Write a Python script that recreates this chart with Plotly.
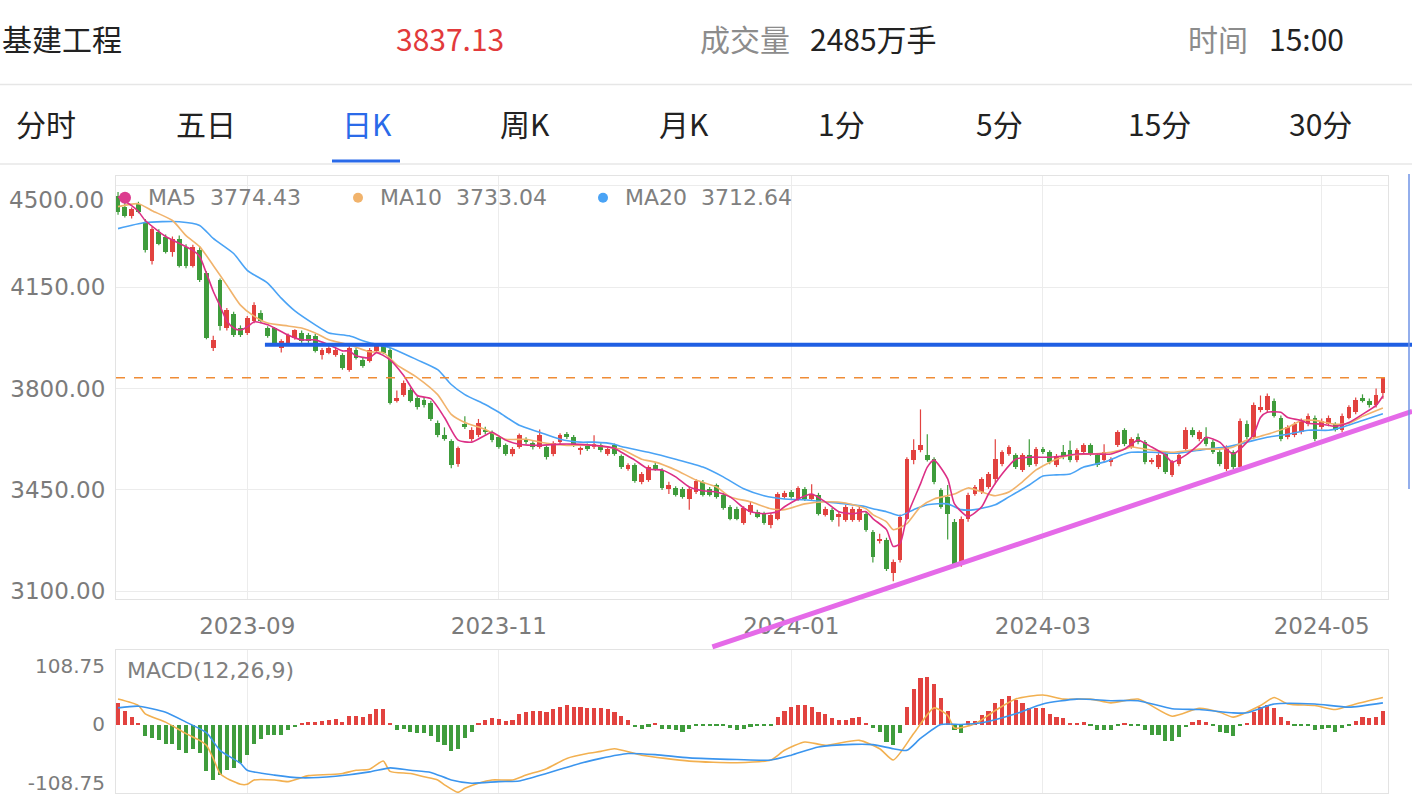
import plotly.graph_objects as go

# ---------------- data ----------------
opens = [4465, 4428, 4397, 4438, 4376, 4239, 4342, 4325, 4273, 4318,
         4290, 4225, 4277, 4198, 3941, 4174, 4009, 4057, 4009, 3992,
         4033, 4061, 4009, 4009, 3941, 3958, 3975, 3992, 3985, 3982,
         3917, 3924, 3917, 3917, 3865, 3934, 3899, 3896, 3930, 3947,
         3934, 3759, 3779, 3797, 3769, 3762, 3752, 3683, 3639, 3618,
         3539, 3677, 3625, 3639, 3659, 3649, 3632, 3604, 3574, 3598,
         3625, 3611, 3598, 3598, 3574, 3615, 3642, 3632, 3587, 3604,
         3598, 3604, 3574, 3604, 3567, 3522, 3536, 3478, 3484, 3536,
         3519, 3454, 3457, 3454, 3419, 3443, 3478, 3454, 3467, 3433,
         3392, 3385, 3337, 3375, 3375, 3368, 3330, 3351, 3426, 3443,
         3419, 3454, 3419, 3433, 3364, 3382, 3358, 3347, 3347, 3347,
         3368, 3306, 3275, 3279, 3162, 3210, 3351, 3553, 3587, 3570,
         3556, 3450, 3426, 3340, 3196, 3351, 3436, 3443, 3460, 3488,
         3539, 3574, 3570, 3519, 3570, 3539, 3591, 3580, 3536, 3580,
         3587, 3553, 3580, 3604, 3570, 3553, 3546, 3604, 3656, 3598,
         3632, 3615, 3546, 3529, 3574, 3502, 3539, 3591, 3659, 3625,
         3632, 3615, 3580, 3522, 3580, 3529, 3677, 3632, 3725, 3725,
         3759, 3700, 3632, 3639, 3649, 3677, 3700, 3666, 3677, 3677,
         3656, 3700, 3718, 3769, 3759, 3742, 3786]
highs = [4478, 4440, 4425, 4445, 4385, 4358, 4350, 4332, 4325, 4328,
         4298, 4296, 4290, 4205, 3982, 4180, 4078, 4065, 4018, 4050,
         4098, 4070, 4015, 4012, 3970, 3990, 4005, 4000, 3992, 3988,
         3940, 3948, 3940, 3922, 3948, 3940, 3905, 3940, 3953, 3953,
         3940, 3793, 3828, 3803, 3775, 3770, 3758, 3690, 3666, 3625,
         3600, 3704, 3666, 3695, 3668, 3655, 3638, 3610, 3598, 3645,
         3632, 3618, 3659, 3604, 3618, 3646, 3650, 3640, 3600, 3610,
         3639, 3611, 3598, 3610, 3572, 3542, 3542, 3512, 3535, 3545,
         3525, 3478, 3463, 3460, 3460, 3488, 3484, 3460, 3472, 3440,
         3398, 3392, 3394, 3409, 3382, 3375, 3370, 3442, 3447, 3450,
         3463, 3460, 3470, 3440, 3392, 3388, 3375, 3398, 3392, 3392,
         3375, 3312, 3299, 3285, 3210, 3365, 3563, 3625, 3728, 3642,
         3563, 3456, 3467, 3350, 3358, 3440, 3467, 3494, 3512, 3625,
         3587, 3604, 3577, 3577, 3625, 3598, 3598, 3587, 3574, 3605,
         3620, 3594, 3611, 3611, 3577, 3608, 3563, 3656, 3663, 3632,
         3645, 3622, 3560, 3577, 3580, 3553, 3577, 3666, 3666, 3656,
         3666, 3622, 3587, 3604, 3587, 3697, 3690, 3752, 3776, 3783,
         3766, 3707, 3673, 3684, 3697, 3714, 3707, 3697, 3707, 3684,
         3714, 3742, 3769, 3780, 3766, 3800, 3840]
lows = [4400, 4390, 4387, 4405, 4270, 4228, 4295, 4266, 4255, 4218,
        4215, 4218, 4168, 3970, 3930, 4000, 4000, 3978, 3978, 3985,
        4025, 4025, 3975, 3950, 3924, 3950, 3968, 3958, 3958, 3924,
        3900, 3918, 3910, 3865, 3858, 3900, 3872, 3890, 3924, 3918,
        3745, 3752, 3772, 3752, 3728, 3735, 3688, 3632, 3620, 3525,
        3530, 3660, 3618, 3632, 3642, 3615, 3592, 3568, 3566, 3592,
        3608, 3590, 3592, 3555, 3566, 3608, 3626, 3598, 3572, 3584,
        3591, 3580, 3568, 3568, 3522, 3516, 3475, 3470, 3478, 3516,
        3450, 3436, 3427, 3420, 3382, 3436, 3427, 3427, 3420, 3382,
        3345, 3345, 3330, 3364, 3352, 3330, 3318, 3345, 3420, 3420,
        3412, 3412, 3412, 3362, 3358, 3340, 3324, 3340, 3340, 3340,
        3306, 3200, 3265, 3170, 3135, 3200, 3345, 3539, 3580, 3548,
        3470, 3385, 3279, 3185, 3185, 3340, 3430, 3436, 3454, 3470,
        3532, 3568, 3522, 3512, 3529, 3532, 3574, 3539, 3529, 3556,
        3546, 3546, 3574, 3568, 3529, 3546, 3532, 3598, 3601, 3592,
        3608, 3539, 3539, 3522, 3505, 3495, 3532, 3584, 3632, 3618,
        3601, 3574, 3532, 3515, 3522, 3522, 3625, 3625, 3718, 3718,
        3700, 3618, 3625, 3632, 3642, 3670, 3618, 3659, 3670, 3652,
        3649, 3694, 3711, 3752, 3735, 3735, 3765]
closes = [4411, 4397, 4421, 4411, 4277, 4352, 4301, 4273, 4318, 4225,
          4222, 4290, 4174, 3975, 3968, 4016, 4071, 3985, 3985, 4044,
          4088, 4033, 3982, 3958, 3965, 3985, 4002, 3965, 3965, 3930,
          3934, 3941, 3934, 3872, 3941, 3906, 3879, 3934, 3947, 3924,
          3752, 3769, 3821, 3759, 3735, 3742, 3694, 3639, 3625, 3536,
          3594, 3666, 3659, 3680, 3649, 3622, 3598, 3574, 3591, 3639,
          3615, 3598, 3639, 3563, 3611, 3639, 3632, 3604, 3594, 3591,
          3608, 3587, 3591, 3574, 3529, 3536, 3481, 3505, 3529, 3522,
          3457, 3467, 3433, 3426, 3454, 3481, 3433, 3433, 3426, 3388,
          3351, 3351, 3388, 3399, 3358, 3337, 3364, 3436, 3440, 3426,
          3457, 3419, 3436, 3368, 3385, 3347, 3368, 3392, 3385, 3385,
          3313, 3220, 3282, 3176, 3203, 3358, 3556, 3587, 3604, 3553,
          3478, 3392, 3368, 3196, 3351, 3433, 3460, 3488, 3505, 3556,
          3580, 3598, 3529, 3570, 3536, 3591, 3580, 3546, 3567, 3563,
          3553, 3587, 3604, 3574, 3536, 3580, 3556, 3649, 3608, 3625,
          3615, 3546, 3553, 3570, 3512, 3546, 3570, 3659, 3639, 3649,
          3608, 3580, 3539, 3598, 3529, 3690, 3632, 3745, 3735, 3776,
          3707, 3625, 3666, 3677, 3690, 3707, 3625, 3690, 3700, 3659,
          3707, 3735, 3762, 3759, 3742, 3779, 3837.13]

# moving averages (candle index, value)
ma5_idx = [0, 2, 3, 4, 6, 7, 9, 11, 12, 13, 14, 15, 16, 17, 18, 19, 20, 22, 23, 25,
           27, 29, 31, 33, 34, 35, 37, 38, 40, 42, 44, 46, 48, 50, 52, 54, 55, 57, 59, 62,
           65, 67, 70, 73, 74, 76, 78, 80, 82, 84, 86, 88, 90, 92, 93, 95, 97, 98, 100, 102,
           104, 106, 108, 110, 111, 113, 114, 115, 116, 118, 119, 120, 122, 123, 125, 127, 128, 130, 132, 134,
           137, 139, 141, 144, 146, 148, 149, 150, 152, 154, 155, 157, 159, 160, 162, 163, 164, 165, 167, 168,
           169, 171, 172, 174, 175, 177, 179, 181, 183, 185, 186]
ma5_val = [4462, 4431, 4411, 4380, 4342, 4325, 4301, 4277, 4256, 4198, 4136, 4085, 4033, 4009, 4002, 4013, 4030, 4020, 4009, 3985,
           3968, 3968, 3951, 3930, 3930, 3913, 3906, 3924, 3899, 3845, 3776, 3765, 3700, 3622, 3615, 3639, 3649, 3622, 3608, 3604,
           3608, 3608, 3604, 3594, 3580, 3553, 3522, 3519, 3495, 3460, 3447, 3443, 3426, 3388, 3375, 3368, 3375, 3392, 3419, 3436,
           3409, 3375, 3368, 3375, 3351, 3313, 3255, 3265, 3358, 3471, 3529, 3553, 3488, 3402, 3358, 3392, 3436, 3505, 3556, 3563,
           3563, 3567, 3574, 3574, 3574, 3591, 3608, 3622, 3598, 3570, 3546, 3570, 3608, 3632, 3615, 3591, 3574, 3591, 3642, 3700,
           3718, 3718, 3700, 3690, 3680, 3677, 3670, 3683, 3711, 3742, 3774.43]

ma10_idx = [0, 3, 5, 8, 10, 12, 14, 16, 18, 20, 22, 25, 27, 29, 31, 34, 37, 39, 41, 44,
            47, 49, 51, 54, 57, 60, 63, 66, 70, 73, 74, 77, 79, 82, 85, 88, 90, 93, 96, 98,
            101, 104, 107, 110, 111, 113, 114, 116, 118, 120, 123, 125, 127, 129, 131, 133, 135, 138, 140, 143,
            146, 148, 149, 151, 155, 159, 162, 164, 166, 169, 172, 174, 176, 179, 181, 183, 186]
ma10_val = [4428, 4438, 4414, 4380, 4328, 4290, 4225, 4157, 4088, 4050, 4026, 4016, 4009, 3992, 3968, 3951, 3927, 3924, 3882, 3838,
            3779, 3711, 3683, 3659, 3625, 3625, 3611, 3604, 3604, 3594, 3591, 3556, 3546, 3519, 3484, 3460, 3426, 3409, 3385, 3382,
            3402, 3409, 3405, 3385, 3365, 3340, 3313, 3334, 3392, 3419, 3436, 3457, 3443, 3430, 3443, 3478, 3519, 3556, 3570, 3574,
            3580, 3591, 3598, 3591, 3580, 3591, 3591, 3598, 3622, 3642, 3666, 3690, 3690, 3677, 3680, 3704, 3733.04]

ma20_idx = [0, 4, 9, 12, 14, 17, 19, 22, 24, 26, 29, 31, 34, 36, 37, 40, 44, 47, 49, 51,
            54, 56, 59, 62, 65, 68, 70, 73, 74, 78, 82, 86, 89, 92, 95, 98, 101, 104, 107, 110,
            111, 113, 115, 117, 119, 122, 124, 126, 129, 131, 134, 136, 138, 140, 142, 145, 148, 149, 152, 156,
            160, 163, 166, 169, 172, 175, 178, 180, 183, 186]
ma20_val = [4352, 4373, 4376, 4363, 4318, 4266, 4208, 4164, 4112, 4068, 4020, 3992, 3982, 3965, 3958, 3941, 3899, 3865, 3814, 3779,
            3745, 3718, 3673, 3649, 3625, 3615, 3615, 3608, 3600, 3580, 3556, 3529, 3495, 3454, 3430, 3419, 3416, 3409, 3402, 3392,
            3385, 3375, 3361, 3382, 3399, 3402, 3382, 3382, 3399, 3426, 3467, 3498, 3502, 3505, 3529, 3546, 3574, 3580, 3580, 3577,
            3591, 3598, 3615, 3632, 3642, 3656, 3656, 3666, 3690, 3712.64]

# MACD histogram, one bar per candle
macd_hist = [40, 25.8, 14.7, 3, -21.5, -25, -28, -37, -37, -47,
             -53, -45, -53, -87, -103, -94, -85, -80, -72, -57,
             -36, -26, -20, -20, -20, -11, -5, 2.5, 5.5, 5.5,
             6.8, 9, 10, 4, 15, 15, 13.5, 19.6, 29, 29,
             2.5, -11, -9, -14, -16, -16, -21.5, -32.5, -37.5, -50,
             -45, -25, -13, 2.5, 9, 12, 10, 7.4, 9, 19.6,
             24, 25.8, 25.8, 24, 29, 32, 36, 33, 32, 30.7,
             30.7, 30, 29, 24, 15, 9, -5, -8, -3.7, 1,
             -8, -9, -11, -13, -8, -3, -2, -2, -3, -2,
             -6.8, -11, -8, -3.7, -2, -3, -2, 14.7, 24.6, 32,
             37, 36, 33, 24, 19.6, 12, 9, 9, 12, 13.5,
             3, -6.8, -14, -32.5, -38.7, -15, 33, 65.8, 86.6, 89,
             75, 49, 25.8, -11, -15, 7.4, 7.4, 17.8, 25.8, 39,
             47, 52, 45, 40, 30.7, 30.7, 30, 19.6, 14.7, 12,
             3, 3, 4, -2, -10, -10, -10, -2, 1, -2,
             -2, -11, -19, -20, -31, -31, -23, -5, 5.5, 9,
             4, -3, -13, -15, -21.5, -2, 3, 22.7, 32, 37,
             30.7, 14.7, 7.4, -2, -1, -1, -10, -8, -6.8, -13,
             -6.8, -2, 7.4, 13.5, 12, 14.7, 24.6]

dif_idx = [0, 3, 4, 7, 10, 12, 13, 14, 15, 16, 18, 19, 20, 23, 25, 28, 31, 33, 35, 37,
           39, 40, 43, 45, 47, 48, 50, 51, 53, 55, 58, 60, 63, 66, 69, 71, 73, 77, 84, 91,
           96, 98, 101, 104, 109, 112, 114, 117, 120, 122, 123, 126, 129, 132, 136, 139, 143, 146, 150, 155,
           159, 162, 164, 168, 170, 172, 176, 179, 182, 186]
dif_val = [47, 35, 19.7, 4.3, -17, -29.5, -38.7, -63, -91, -100, -111, -111, -103, -103, -106, -95, -93, -91, -85, -83,
           -68, -87, -91, -97, -103, -112, -126, -118.5, -109, -103, -103, -94, -82, -63, -54, -50, -45, -57, -68, -71,
           -66, -48, -32.5, -38.7, -29.5, -45, -66, -17, 30.7, 16.6, -6.8, 1.2, 25.8, 47, 54.7, 47, 47, 40, 47, 15.3,
           30, 22.7, 13.5, 35, 50, 38, 35, 27.6, 38, 50]

dea_idx = [0, 3, 7, 10, 13, 15, 18, 19, 23, 27, 32, 37, 40, 43, 46, 49, 52, 56, 59, 63,
           67, 71, 75, 79, 84, 91, 96, 99, 103, 108, 111, 114, 116, 118, 121, 124, 127, 132, 136, 141,
           146, 150, 155, 159, 164, 166, 170, 176, 181, 186]
dea_val = [30.7, 33.8, 22.7, 4.3, -15.4, -48, -72, -85, -94, -99, -96, -88, -80.5, -85, -89, -103, -109, -106, -105, -91,
           -75.6, -63, -54, -56, -62, -65, -66, -57, -41.8, -37, -37.5, -45, -48, -26, 0, 0, 3, 19.7, 38, 47,
           44, 44, 29, 27.6, 21.5, 21.5, 38, 38, 32, 40]

month_idx = [19, 56, 99, 136, 177]
month_labels = ["2023-09", "2023-11", "2024-01", "2024-03", "2024-05"]
price_ticks = [4500, 4150, 3800, 3450, 3100]
macd_ticks = [108.75, 0, -108.75]

support_level = 3951
support_start = 21.6
last_close = 3837.13
trend_p0 = (87.4, 2908)
trend_p1 = (190.3, 3721)

# ---------------- styling ----------------
W, H = 1412, 800
RED, GREEN = "#e2423f", "#3f9c3c"
GRID, BORDER = "#ececec", "#e3e3e3"
CJK = "Noto Sans CJK SC"
LAT = "DejaVu Sans"

XR = [-0.3, 186.75]
XD = [116 / W, 1388 / W]
YR = [3072.8, 4534.0]
YD = [1 - 603 / H, 1 - 177 / H]
MR = [-127.2, 138.2]
MD = [1 - 798 / H, 1 - 654 / H]


def px(x):
    return x / W


def py(y):
    return 1 - y / H


def xpaper(i):
    return XD[0] + (i - XR[0]) / (XR[1] - XR[0]) * (XD[1] - XD[0])


def ypaper(p):
    return YD[0] + (p - YR[0]) / (YR[1] - YR[0]) * (YD[1] - YD[0])


n = len(closes)
idx = list(range(n))
is_up = [c >= o for o, c in zip(opens, closes)]
body_base = [min(o, c) for o, c in zip(opens, closes)]
body_h = [max(abs(c - o), 2.5) for o, c in zip(opens, closes)]
body_col = [RED if u else GREEN for u in is_up]

fig = go.Figure()

for want, col in ((True, RED), (False, GREEN)):
    wx, wy = [], []
    for i in idx:
        if is_up[i] == want:
            wx += [i, i, None]
            wy += [lows[i], highs[i], None]
    fig.add_trace(go.Scatter(x=wx, y=wy, mode="lines", line=dict(color=col, width=1.2),
                             hoverinfo="skip", xaxis="x", yaxis="y"))

fig.add_trace(go.Bar(x=idx, y=body_h, base=body_base, width=0.7,
                     marker=dict(color=body_col, line=dict(width=0)),
                     xaxis="x", yaxis="y"))

for xs, ys, col in ((ma20_idx, ma20_val, "#4aa3f5"), (ma10_idx, ma10_val, "#f1b36c"),
                    (ma5_idx, ma5_val, "#dc2f86")):
    fig.add_trace(go.Scatter(x=xs, y=ys, mode="lines",
                             line=dict(color=col, width=1.6, shape="spline", smoothing=0.6),
                             xaxis="x", yaxis="y"))

# MACD panel
fig.add_trace(go.Bar(x=idx, y=macd_hist, width=0.6,
                     marker=dict(color=[RED if v >= 0 else GREEN for v in macd_hist], line=dict(width=0)),
                     xaxis="x2", yaxis="y2"))
fig.add_trace(go.Scatter(x=dif_idx, y=dif_val, mode="lines",
                         line=dict(color="#f2b050", width=1.6, shape="spline", smoothing=0.6),
                         xaxis="x2", yaxis="y2"))
fig.add_trace(go.Scatter(x=dea_idx, y=dea_val, mode="lines",
                         line=dict(color="#3b95ee", width=1.6, shape="spline", smoothing=0.6),
                         xaxis="x2", yaxis="y2"))

axis_common = dict(showline=True, mirror=True, linecolor=BORDER, linewidth=1, zeroline=False)
tickfont = dict(family=LAT, size=23, color="#7b7b7b")
macd_tickfont = dict(family=LAT, size=20, color="#7b7b7b")

# top price label is drawn a little below its gridline in the reference
price_text = ["" if v == price_ticks[0] else f"{v:.2f}" for v in price_ticks]

fig.update_layout(
    width=W, height=H, margin=dict(l=0, r=0, t=0, b=0),
    paper_bgcolor="white", plot_bgcolor="white", showlegend=False, bargap=0,
    xaxis=dict(domain=XD, range=XR, tickmode="array", tickvals=month_idx, ticktext=month_labels,
               showgrid=True, gridcolor=GRID, ticks="", tickfont=tickfont, ticklabelstandoff=6,
               anchor="y", **axis_common),
    yaxis=dict(domain=YD, range=YR, tickmode="array", tickvals=price_ticks,
               ticktext=price_text, showgrid=True, gridcolor=GRID,
               ticks="", tickfont=tickfont, ticklabelstandoff=5, anchor="x", **axis_common),
    xaxis2=dict(domain=XD, range=XR, tickmode="array", tickvals=month_idx, showticklabels=False,
                showgrid=True, gridcolor=GRID, ticks="", anchor="y2", **axis_common),
    yaxis2=dict(domain=MD, range=MR, tickmode="array", tickvals=macd_ticks,
                ticktext=["108.75", "0", "-108.75"], showgrid=False, ticks="",
                tickfont=macd_tickfont, ticklabelstandoff=6, anchor="x2", **axis_common),
)

shapes = []
# page separators and tab underline
shapes.append(dict(type="line", xref="paper", yref="paper", x0=0, x1=1, y0=py(85), y1=py(85),
                   line=dict(color="#e6e6e6", width=1.5)))
shapes.append(dict(type="line", xref="paper", yref="paper", x0=0, x1=1, y0=py(165), y1=py(165),
                   line=dict(color="#ededed", width=2)))
shapes.append(dict(type="line", xref="paper", yref="paper", x0=px(332), x1=px(400), y0=py(162), y1=py(162),
                   line=dict(color="#2a6ae9", width=3)))
# support line, last-close dashed line, trend line
shapes.append(dict(type="line", xref="paper", yref="paper", layer="above",
                   x0=xpaper(support_start), x1=1, y0=ypaper(support_level), y1=ypaper(support_level),
                   line=dict(color="#1f5fe3", width=4)))
shapes.append(dict(type="line", xref="x domain", yref="y", layer="above", x0=0, x1=1,
                   y0=last_close, y1=last_close, line=dict(color="#ef8c36", width=1.6, dash="dash")))
shapes.append(dict(type="line", xref="paper", yref="paper", layer="above",
                   x0=xpaper(trend_p0[0]), y0=ypaper(trend_p0[1]),
                   x1=xpaper(trend_p1[0]), y1=ypaper(trend_p1[1]),
                   line=dict(color="#e56ae8", width=5)))
# right edge blue frame
shapes.append(dict(type="line", xref="paper", yref="paper", x0=px(1409), x1=px(1409), y0=py(175), y1=py(492),
                   line=dict(color="#6f93e6", width=1.5)))
# legend dots
for cx, col, r in ((125, "#dc3c8f", 6), (358, "#f1b36c", 5), (603, "#4aa3f5", 5)):
    shapes.append(dict(type="circle", xref="paper", yref="paper", xsizemode="pixel", ysizemode="pixel",
                       xanchor=px(cx), yanchor=py(199), x0=-r, x1=r, y0=-r, y1=r,
                       fillcolor=col, line=dict(width=0), layer="above"))
fig.update_layout(shapes=shapes)

ann = []


def text(x, y, s, size=30, color="#222222", anchor="left", family=CJK):
    ann.append(dict(x=px(x), y=py(y), xref="paper", yref="paper", text=s, showarrow=False,
                    xanchor=anchor, yanchor="middle", font=dict(family=family, size=size, color=color)))


text(0, 38, "基建工程")
text(450, 38, "3837.13", color="#e23a3b", anchor="center")
text(698, 38, "成交量", color="#8c8c8c")
text(808, 38, "2485万手")
text(1186, 38, "时间", color="#8c8c8c")
text(1267, 38, "15:00")

tabs = [("分时", 46), ("五日", 206), ("日K", 367), ("周K", 525), ("月K", 684),
        ("1分", 841), ("5分", 1000), ("15分", 1159), ("30分", 1320)]
for label, cx in tabs:
    text(cx, 124, label, color="#2a6ae9" if label == "日K" else "#222222", anchor="center")

text(106, 201, f"{price_ticks[0]:.2f}", size=23, color="#7b7b7b", anchor="right", family=LAT)
text(146, 199, "MA5\u00a0\u00a03774.43", size=22, color="#808080", family=LAT)
text(378, 199, "MA10\u00a0\u00a03733.04", size=22, color="#808080", family=LAT)
text(623, 199, "MA20\u00a0\u00a03712.64", size=22, color="#808080", family=LAT)
text(125, 675, "MACD(12,26,9)", size=22, color="#808080", family=LAT)
fig.update_layout(annotations=ann)

fig.write_html("out.html", config={"displayModeBar": False},
               post_script="document.body.style.margin='0';document.body.style.overflow='hidden';")
